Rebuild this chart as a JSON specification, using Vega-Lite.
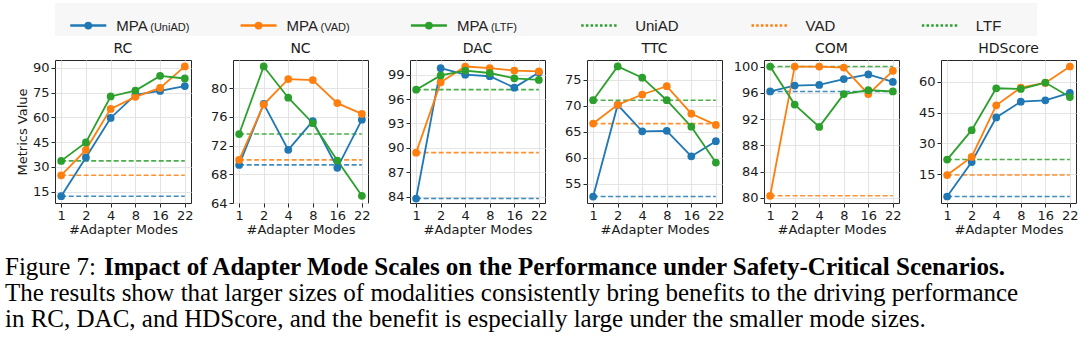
{
  "$schema": "https://vega.github.io/schema/vega-lite/v6.json",
  "padding": {"left": 5, "top": 3, "right": 0, "bottom": 0},
  "background": "white",
  "datasets": {
    "legend": [
      {"entry": "MPA (UniAD)", "label": "MPA", "sub": "(UniAD)", "kind": "mpa"},
      {"entry": "MPA (VAD)", "label": "MPA", "sub": "(VAD)", "kind": "mpa"},
      {"entry": "MPA (LTF)", "label": "MPA", "sub": "(LTF)", "kind": "mpa"},
      {"entry": "UniAD", "label": "UniAD", "sub": "", "kind": "base"},
      {"entry": "VAD", "label": "VAD", "sub": "", "kind": "base"},
      {"entry": "LTF", "label": "LTF", "sub": "", "kind": "base"}
    ],
    "base": [
      {"metric": "RC", "model": "UniAD", "value": 12.2}, {"metric": "RC", "model": "VAD", "value": 24.9}, {"metric": "RC", "model": "LTF", "value": 33.6},
      {"metric": "NC", "model": "UniAD", "value": 69.3}, {"metric": "NC", "model": "VAD", "value": 70.0}, {"metric": "NC", "model": "LTF", "value": 73.6},
      {"metric": "DAC", "model": "UniAD", "value": 83.75}, {"metric": "DAC", "model": "VAD", "value": 89.4}, {"metric": "DAC", "model": "LTF", "value": 97.15},
      {"metric": "TTC", "model": "UniAD", "value": 52.55}, {"metric": "TTC", "model": "VAD", "value": 66.6}, {"metric": "TTC", "model": "LTF", "value": 71.1},
      {"metric": "COM", "model": "UniAD", "value": 96.2}, {"metric": "COM", "model": "VAD", "value": 80.3}, {"metric": "COM", "model": "LTF", "value": 100.0},
      {"metric": "HDScore", "model": "UniAD", "value": 4.3}, {"metric": "HDScore", "model": "VAD", "value": 14.7}, {"metric": "HDScore", "model": "LTF", "value": 22.2}
    ],
    "mpa": [
      {"metric": "RC", "model": "UniAD", "mode": 1, "value": 12.2}, {"metric": "RC", "model": "UniAD", "mode": 2, "value": 35.7}, {"metric": "RC", "model": "UniAD", "mode": 4, "value": 59.6}, {"metric": "RC", "model": "UniAD", "mode": 8, "value": 73.6}, {"metric": "RC", "model": "UniAD", "mode": 16, "value": 76.0}, {"metric": "RC", "model": "UniAD", "mode": 22, "value": 78.9},
      {"metric": "RC", "model": "VAD", "mode": 1, "value": 24.9}, {"metric": "RC", "model": "VAD", "mode": 2, "value": 40.3}, {"metric": "RC", "model": "VAD", "mode": 4, "value": 65.1}, {"metric": "RC", "model": "VAD", "mode": 8, "value": 72.4}, {"metric": "RC", "model": "VAD", "mode": 16, "value": 77.8}, {"metric": "RC", "model": "VAD", "mode": 22, "value": 90.8},
      {"metric": "RC", "model": "LTF", "mode": 1, "value": 33.6}, {"metric": "RC", "model": "LTF", "mode": 2, "value": 44.8}, {"metric": "RC", "model": "LTF", "mode": 4, "value": 72.6}, {"metric": "RC", "model": "LTF", "mode": 8, "value": 76.2}, {"metric": "RC", "model": "LTF", "mode": 16, "value": 85.1}, {"metric": "RC", "model": "LTF", "mode": 22, "value": 83.5},
      {"metric": "NC", "model": "UniAD", "mode": 1, "value": 69.3}, {"metric": "NC", "model": "UniAD", "mode": 2, "value": 77.8}, {"metric": "NC", "model": "UniAD", "mode": 4, "value": 71.4}, {"metric": "NC", "model": "UniAD", "mode": 8, "value": 75.4}, {"metric": "NC", "model": "UniAD", "mode": 16, "value": 68.9}, {"metric": "NC", "model": "UniAD", "mode": 22, "value": 75.6},
      {"metric": "NC", "model": "VAD", "mode": 1, "value": 70.0}, {"metric": "NC", "model": "VAD", "mode": 2, "value": 77.7}, {"metric": "NC", "model": "VAD", "mode": 4, "value": 81.25}, {"metric": "NC", "model": "VAD", "mode": 8, "value": 81.1}, {"metric": "NC", "model": "VAD", "mode": 16, "value": 77.9}, {"metric": "NC", "model": "VAD", "mode": 22, "value": 76.4},
      {"metric": "NC", "model": "LTF", "mode": 1, "value": 73.6}, {"metric": "NC", "model": "LTF", "mode": 2, "value": 83.0}, {"metric": "NC", "model": "LTF", "mode": 4, "value": 78.65}, {"metric": "NC", "model": "LTF", "mode": 8, "value": 75.1}, {"metric": "NC", "model": "LTF", "mode": 16, "value": 69.9}, {"metric": "NC", "model": "LTF", "mode": 22, "value": 65.0},
      {"metric": "DAC", "model": "UniAD", "mode": 1, "value": 83.75}, {"metric": "DAC", "model": "UniAD", "mode": 2, "value": 99.8}, {"metric": "DAC", "model": "UniAD", "mode": 4, "value": 99.0}, {"metric": "DAC", "model": "UniAD", "mode": 8, "value": 98.8}, {"metric": "DAC", "model": "UniAD", "mode": 16, "value": 97.4}, {"metric": "DAC", "model": "UniAD", "mode": 22, "value": 99.25},
      {"metric": "DAC", "model": "VAD", "mode": 1, "value": 89.4}, {"metric": "DAC", "model": "VAD", "mode": 2, "value": 98.05}, {"metric": "DAC", "model": "VAD", "mode": 4, "value": 100.0}, {"metric": "DAC", "model": "VAD", "mode": 8, "value": 99.8}, {"metric": "DAC", "model": "VAD", "mode": 16, "value": 99.5}, {"metric": "DAC", "model": "VAD", "mode": 22, "value": 99.4},
      {"metric": "DAC", "model": "LTF", "mode": 1, "value": 97.15}, {"metric": "DAC", "model": "LTF", "mode": 2, "value": 98.9}, {"metric": "DAC", "model": "LTF", "mode": 4, "value": 99.5}, {"metric": "DAC", "model": "LTF", "mode": 8, "value": 99.2}, {"metric": "DAC", "model": "LTF", "mode": 16, "value": 98.55}, {"metric": "DAC", "model": "LTF", "mode": 22, "value": 98.35},
      {"metric": "TTC", "model": "UniAD", "mode": 1, "value": 52.55}, {"metric": "TTC", "model": "UniAD", "mode": 2, "value": 70.2}, {"metric": "TTC", "model": "UniAD", "mode": 4, "value": 65.1}, {"metric": "TTC", "model": "UniAD", "mode": 8, "value": 65.2}, {"metric": "TTC", "model": "UniAD", "mode": 16, "value": 60.3}, {"metric": "TTC", "model": "UniAD", "mode": 22, "value": 63.2},
      {"metric": "TTC", "model": "VAD", "mode": 1, "value": 66.6}, {"metric": "TTC", "model": "VAD", "mode": 2, "value": 70.2}, {"metric": "TTC", "model": "VAD", "mode": 4, "value": 72.2}, {"metric": "TTC", "model": "VAD", "mode": 8, "value": 73.8}, {"metric": "TTC", "model": "VAD", "mode": 16, "value": 68.5}, {"metric": "TTC", "model": "VAD", "mode": 22, "value": 66.35},
      {"metric": "TTC", "model": "LTF", "mode": 1, "value": 71.1}, {"metric": "TTC", "model": "LTF", "mode": 2, "value": 77.6}, {"metric": "TTC", "model": "LTF", "mode": 4, "value": 75.45}, {"metric": "TTC", "model": "LTF", "mode": 8, "value": 71.1}, {"metric": "TTC", "model": "LTF", "mode": 16, "value": 66.0}, {"metric": "TTC", "model": "LTF", "mode": 22, "value": 59.1},
      {"metric": "COM", "model": "UniAD", "mode": 1, "value": 96.2}, {"metric": "COM", "model": "UniAD", "mode": 2, "value": 97.1}, {"metric": "COM", "model": "UniAD", "mode": 4, "value": 97.2}, {"metric": "COM", "model": "UniAD", "mode": 8, "value": 98.1}, {"metric": "COM", "model": "UniAD", "mode": 16, "value": 98.8}, {"metric": "COM", "model": "UniAD", "mode": 22, "value": 97.65},
      {"metric": "COM", "model": "VAD", "mode": 1, "value": 80.3}, {"metric": "COM", "model": "VAD", "mode": 2, "value": 100.0}, {"metric": "COM", "model": "VAD", "mode": 4, "value": 100.0}, {"metric": "COM", "model": "VAD", "mode": 8, "value": 99.85}, {"metric": "COM", "model": "VAD", "mode": 16, "value": 95.8}, {"metric": "COM", "model": "VAD", "mode": 22, "value": 99.35},
      {"metric": "COM", "model": "LTF", "mode": 1, "value": 100.0}, {"metric": "COM", "model": "LTF", "mode": 2, "value": 94.2}, {"metric": "COM", "model": "LTF", "mode": 4, "value": 90.8}, {"metric": "COM", "model": "LTF", "mode": 8, "value": 95.8}, {"metric": "COM", "model": "LTF", "mode": 16, "value": 96.4}, {"metric": "COM", "model": "LTF", "mode": 22, "value": 96.2},
      {"metric": "HDScore", "model": "UniAD", "mode": 1, "value": 4.3}, {"metric": "HDScore", "model": "UniAD", "mode": 2, "value": 21.0}, {"metric": "HDScore", "model": "UniAD", "mode": 4, "value": 42.6}, {"metric": "HDScore", "model": "UniAD", "mode": 8, "value": 50.25}, {"metric": "HDScore", "model": "UniAD", "mode": 16, "value": 50.9}, {"metric": "HDScore", "model": "UniAD", "mode": 22, "value": 54.5},
      {"metric": "HDScore", "model": "VAD", "mode": 1, "value": 14.7}, {"metric": "HDScore", "model": "VAD", "mode": 2, "value": 23.5}, {"metric": "HDScore", "model": "VAD", "mode": 4, "value": 48.5}, {"metric": "HDScore", "model": "VAD", "mode": 8, "value": 57.1}, {"metric": "HDScore", "model": "VAD", "mode": 16, "value": 59.35}, {"metric": "HDScore", "model": "VAD", "mode": 22, "value": 67.3},
      {"metric": "HDScore", "model": "LTF", "mode": 1, "value": 22.2}, {"metric": "HDScore", "model": "LTF", "mode": 2, "value": 36.45}, {"metric": "HDScore", "model": "LTF", "mode": 4, "value": 56.75}, {"metric": "HDScore", "model": "LTF", "mode": 8, "value": 56.4}, {"metric": "HDScore", "model": "LTF", "mode": 16, "value": 59.5}, {"metric": "HDScore", "model": "LTF", "mode": 22, "value": 52.5}
    ],
    "caption": [
      {"line": 1, "part": "figure", "text": "Figure 7:"},
      {"line": 1, "part": "heading", "text": "Impact of Adapter Mode Scales on the Performance under Safety-Critical Scenarios."},
      {"line": 2, "part": "body", "text": "The results show that larger sizes of modalities consistently bring benefits to the driving performance"},
      {"line": 3, "part": "body", "text": "in RC, DAC, and HDScore, and the benefit is especially large under the smaller mode sizes."}
    ]
  },
  "vconcat": [
    {
      "vconcat": [
        {
          "width": 982, "height": 33,
          "view": {"fill": "#f7f7f7", "stroke": null},
          "data": {"name": "legend"},
          "encoding": {
            "x": {"field": "entry", "type": "nominal", "bandPosition": 0.255, "axis": null,
                  "scale": {"type": "band", "paddingInner": 0.234, "paddingOuter": 0, "domain": ["MPA (UniAD)", "MPA (VAD)", "MPA (LTF)", "UniAD", "VAD", "LTF"]}},
            "y": {"datum": 0, "type": "quantitative", "axis": null, "scale": {"domain": [-0.636, 1.364]}},
            "color": {"field": "entry", "type": "nominal", "legend": null,
                      "scale": {"domain": ["MPA (UniAD)", "MPA (VAD)", "MPA (LTF)", "UniAD", "VAD", "LTF"], "range": ["#1f77b4", "#ff7f0e", "#2ca02c", "#2ca02c", "#ff7f0e", "#2ca02c"]}}
          },
          "layer": [
            {"transform": [{"filter": "datum.kind === 'mpa'"}], "mark": {"type": "point", "shape": "M-1,0L1,0", "size": 1296, "filled": false, "strokeWidth": 2.5, "opacity": 1}},
            {"transform": [{"filter": "datum.kind === 'mpa'"}], "mark": {"type": "point", "shape": "circle", "filled": true, "size": 60, "opacity": 1}},
            {"transform": [{"filter": "datum.kind === 'base'"}], "mark": {"type": "point", "shape": "M-1,0L1,0", "size": 1296, "filled": false, "strokeWidth": 2.5, "strokeDash": [2.5, 2.2], "opacity": 1}},
            {"transform": [{"filter": "datum.kind === 'mpa'"}], "mark": {"type": "text", "align": "left", "baseline": "alphabetic", "dx": 28, "dy": 5.5, "font": "Liberation Sans", "fontSize": 15},
             "encoding": {"text": {"field": "label"}, "color": {"value": "#222222"}}},
            {"transform": [{"filter": "datum.kind === 'mpa'"}], "mark": {"type": "text", "align": "left", "baseline": "alphabetic", "dx": 62, "dy": 5.5, "font": "Liberation Sans", "fontSize": 11},
             "encoding": {"text": {"field": "sub"}, "color": {"value": "#222222"}}},
            {"transform": [{"filter": "datum.kind === 'base'"}], "mark": {"type": "text", "align": "left", "baseline": "alphabetic", "dx": 36, "dy": 5.5, "font": "Liberation Sans", "fontSize": 15},
             "encoding": {"text": {"field": "label"}, "color": {"value": "#222222"}}}
          ]
        },
        {
          "hconcat": [
            {"title": "RC", "width": 136, "height": 143, "layer": [
              {"data": {"name": "base"}, "transform": [{"filter": "datum.metric === 'RC'"}], "mark": {"type": "rule", "strokeDash": [5, 2.5], "strokeWidth": 1.6, "opacity": 0.85},
               "encoding": {"x": {"datum": 1, "type": "ordinal"}, "x2": {"datum": 22}, "y": {"field": "value", "type": "quantitative"}, "color": {"field": "model", "type": "nominal", "legend": null, "scale": {"domain": ["UniAD", "VAD", "LTF"], "range": ["#1f77b4", "#ff7f0e", "#2ca02c"]}}}},
              {"data": {"name": "mpa"}, "transform": [{"filter": "datum.metric === 'RC'"}], "mark": {"type": "line", "strokeWidth": 1.8, "point": {"filled": true, "size": 60, "opacity": 1}},
               "encoding": {
                 "x": {"field": "mode", "type": "ordinal", "scale": {"type": "point", "padding": 0.25, "domain": [1, 2, 4, 8, 16, 22]}, "axis": {"title": "#Adapter Modes", "labelAngle": 0, "labelAlign": "center", "labelBaseline": "top", "grid": true}},
                 "y": {"field": "value", "type": "quantitative", "scale": {"domain": [8.1, 94.7], "nice": false, "zero": false}, "axis": {"title": "Metrics Value", "values": [15, 30, 45, 60, 75, 90], "tickCount": 12, "titlePadding": 3, "labelOverlap": false}},
                 "color": {"field": "model", "type": "nominal", "legend": null}}}
            ]},
            {"title": "NC", "width": 135, "height": 143, "layer": [
              {"data": {"name": "base"}, "transform": [{"filter": "datum.metric === 'NC'"}], "mark": {"type": "rule", "strokeDash": [5, 2.5], "strokeWidth": 1.6, "opacity": 0.85},
               "encoding": {"x": {"datum": 1, "type": "ordinal"}, "x2": {"datum": 22}, "y": {"field": "value", "type": "quantitative"}, "color": {"field": "model", "type": "nominal", "legend": null, "scale": {"domain": ["UniAD", "VAD", "LTF"], "range": ["#1f77b4", "#ff7f0e", "#2ca02c"]}}}},
              {"data": {"name": "mpa"}, "transform": [{"filter": "datum.metric === 'NC'"}], "mark": {"type": "line", "strokeWidth": 1.8, "point": {"filled": true, "size": 60, "opacity": 1}},
               "encoding": {
                 "x": {"field": "mode", "type": "ordinal", "scale": {"type": "point", "padding": 0.25, "domain": [1, 2, 4, 8, 16, 22]}, "axis": {"title": "#Adapter Modes", "labelAngle": 0, "labelAlign": "center", "labelBaseline": "top", "grid": true}},
                 "y": {"field": "value", "type": "quantitative", "scale": {"domain": [64.0, 83.9], "nice": false, "zero": false}, "axis": {"title": null, "values": [64, 68, 72, 76, 80], "tickCount": 12, "minExtent": 31, "labelOverlap": false}},
                 "color": {"field": "model", "type": "nominal", "legend": null}}}
            ]},
            {"title": "DAC", "width": 135, "height": 143, "layer": [
              {"data": {"name": "base"}, "transform": [{"filter": "datum.metric === 'DAC'"}], "mark": {"type": "rule", "strokeDash": [5, 2.5], "strokeWidth": 1.6, "opacity": 0.85},
               "encoding": {"x": {"datum": 1, "type": "ordinal"}, "x2": {"datum": 22}, "y": {"field": "value", "type": "quantitative"}, "color": {"field": "model", "type": "nominal", "legend": null, "scale": {"domain": ["UniAD", "VAD", "LTF"], "range": ["#1f77b4", "#ff7f0e", "#2ca02c"]}}}},
              {"data": {"name": "mpa"}, "transform": [{"filter": "datum.metric === 'DAC'"}], "mark": {"type": "line", "strokeWidth": 1.8, "point": {"filled": true, "size": 60, "opacity": 1}},
               "encoding": {
                 "x": {"field": "mode", "type": "ordinal", "scale": {"type": "point", "padding": 0.25, "domain": [1, 2, 4, 8, 16, 22]}, "axis": {"title": "#Adapter Modes", "labelAngle": 0, "labelAlign": "center", "labelBaseline": "top", "grid": true}},
                 "y": {"field": "value", "type": "quantitative", "scale": {"domain": [83.2, 100.8], "nice": false, "zero": false}, "axis": {"title": null, "values": [84, 87, 90, 93, 96, 99], "tickCount": 12, "minExtent": 31, "labelOverlap": false}},
                 "color": {"field": "model", "type": "nominal", "legend": null}}}
            ]},
            {"title": "TTC", "width": 135, "height": 143, "layer": [
              {"data": {"name": "base"}, "transform": [{"filter": "datum.metric === 'TTC'"}], "mark": {"type": "rule", "strokeDash": [5, 2.5], "strokeWidth": 1.6, "opacity": 0.85},
               "encoding": {"x": {"datum": 1, "type": "ordinal"}, "x2": {"datum": 22}, "y": {"field": "value", "type": "quantitative"}, "color": {"field": "model", "type": "nominal", "legend": null, "scale": {"domain": ["UniAD", "VAD", "LTF"], "range": ["#1f77b4", "#ff7f0e", "#2ca02c"]}}}},
              {"data": {"name": "mpa"}, "transform": [{"filter": "datum.metric === 'TTC'"}], "mark": {"type": "line", "strokeWidth": 1.8, "point": {"filled": true, "size": 60, "opacity": 1}},
               "encoding": {
                 "x": {"field": "mode", "type": "ordinal", "scale": {"type": "point", "padding": 0.25, "domain": [1, 2, 4, 8, 16, 22]}, "axis": {"title": "#Adapter Modes", "labelAngle": 0, "labelAlign": "center", "labelBaseline": "top", "grid": true}},
                 "y": {"field": "value", "type": "quantitative", "scale": {"domain": [51.3, 78.85], "nice": false, "zero": false}, "axis": {"title": null, "values": [55, 60, 65, 70, 75], "tickCount": 12, "minExtent": 31, "labelOverlap": false}},
                 "color": {"field": "model", "type": "nominal", "legend": null}}}
            ]},
            {"title": "COM", "width": 135, "height": 143, "layer": [
              {"data": {"name": "base"}, "transform": [{"filter": "datum.metric === 'COM'"}], "mark": {"type": "rule", "strokeDash": [5, 2.5], "strokeWidth": 1.6, "opacity": 0.85},
               "encoding": {"x": {"datum": 1, "type": "ordinal"}, "x2": {"datum": 22}, "y": {"field": "value", "type": "quantitative"}, "color": {"field": "model", "type": "nominal", "legend": null, "scale": {"domain": ["UniAD", "VAD", "LTF"], "range": ["#1f77b4", "#ff7f0e", "#2ca02c"]}}}},
              {"data": {"name": "mpa"}, "transform": [{"filter": "datum.metric === 'COM'"}], "mark": {"type": "line", "strokeWidth": 1.8, "point": {"filled": true, "size": 60, "opacity": 1}},
               "encoding": {
                 "x": {"field": "mode", "type": "ordinal", "scale": {"type": "point", "padding": 0.25, "domain": [1, 2, 4, 8, 16, 22]}, "axis": {"title": "#Adapter Modes", "labelAngle": 0, "labelAlign": "center", "labelBaseline": "top", "grid": true}},
                 "y": {"field": "value", "type": "quantitative", "scale": {"domain": [79.2, 101.0], "nice": false, "zero": false}, "axis": {"title": null, "values": [80, 84, 88, 92, 96, 100], "tickCount": 12, "minExtent": 31, "labelOverlap": false}},
                 "color": {"field": "model", "type": "nominal", "legend": null}}}
            ]},
            {"title": "HDScore", "width": 135, "height": 143, "layer": [
              {"data": {"name": "base"}, "transform": [{"filter": "datum.metric === 'HDScore'"}], "mark": {"type": "rule", "strokeDash": [5, 2.5], "strokeWidth": 1.6, "opacity": 0.85},
               "encoding": {"x": {"datum": 1, "type": "ordinal"}, "x2": {"datum": 22}, "y": {"field": "value", "type": "quantitative"}, "color": {"field": "model", "type": "nominal", "legend": null, "scale": {"domain": ["UniAD", "VAD", "LTF"], "range": ["#1f77b4", "#ff7f0e", "#2ca02c"]}}}},
              {"data": {"name": "mpa"}, "transform": [{"filter": "datum.metric === 'HDScore'"}], "mark": {"type": "line", "strokeWidth": 1.8, "point": {"filled": true, "size": 60, "opacity": 1}},
               "encoding": {
                 "x": {"field": "mode", "type": "ordinal", "scale": {"type": "point", "padding": 0.25, "domain": [1, 2, 4, 8, 16, 22]}, "axis": {"title": "#Adapter Modes", "labelAngle": 0, "labelAlign": "center", "labelBaseline": "top", "grid": true}},
                 "y": {"field": "value", "type": "quantitative", "scale": {"domain": [1.15, 70.45], "nice": false, "zero": false}, "axis": {"title": null, "values": [15, 30, 45, 60], "tickCount": 12, "minExtent": 31, "labelOverlap": false}},
                 "color": {"field": "model", "type": "nominal", "legend": null}}}
            ]}
          ],
          "spacing": 7
        }
      ],
      "spacing": 5,
      "resolve": {"scale": {"color": "independent", "x": "independent", "y": "independent"}}
    },
    {
      "width": 1000, "height": 78,
      "view": {"stroke": null},
      "data": {"name": "caption"},
      "encoding": {
        "y": {"field": "line", "type": "ordinal", "axis": null, "scale": {"type": "point", "padding": 0.5}},
        "x": {"value": 0}
      },
      "layer": [
        {"transform": [{"filter": "datum.part !== 'heading'"}], "mark": {"type": "text", "align": "left", "baseline": "middle", "font": "Liberation Serif", "fontSize": 25, "dx": -50, "color": "#000000"}, "encoding": {"text": {"field": "text"}}},
        {"transform": [{"filter": "datum.part === 'heading'"}], "mark": {"type": "text", "align": "left", "baseline": "middle", "font": "Liberation Serif", "fontSize": 25, "fontWeight": "bold", "dx": 49, "color": "#000000"}, "encoding": {"text": {"field": "text"}}}
      ]
    }
  ],
  "spacing": 17,
  "resolve": {"scale": {"color": "independent"}},
  "config": {
    "view": {"stroke": "#262626", "strokeWidth": 1},
    "axis": {"domain": false, "tickColor": "#262626", "tickSize": 4, "tickWidth": 1, "labelFont": "DejaVu Sans", "labelFontSize": 13, "labelColor": "#1a1a1a", "labelPadding": 2, "labelOverlap": false, "labelFlush": false, "titleFont": "DejaVu Sans", "titleFontSize": 13, "titleFontWeight": "normal", "titleColor": "#1a1a1a", "gridColor": "#e4e4e4", "gridWidth": 1},
    "axisX": {"titlePadding": 1},
    "title": {"font": "DejaVu Sans", "fontSize": 14, "fontWeight": "normal", "offset": 4, "color": "#1a1a1a", "anchor": "middle"}
  }
}
